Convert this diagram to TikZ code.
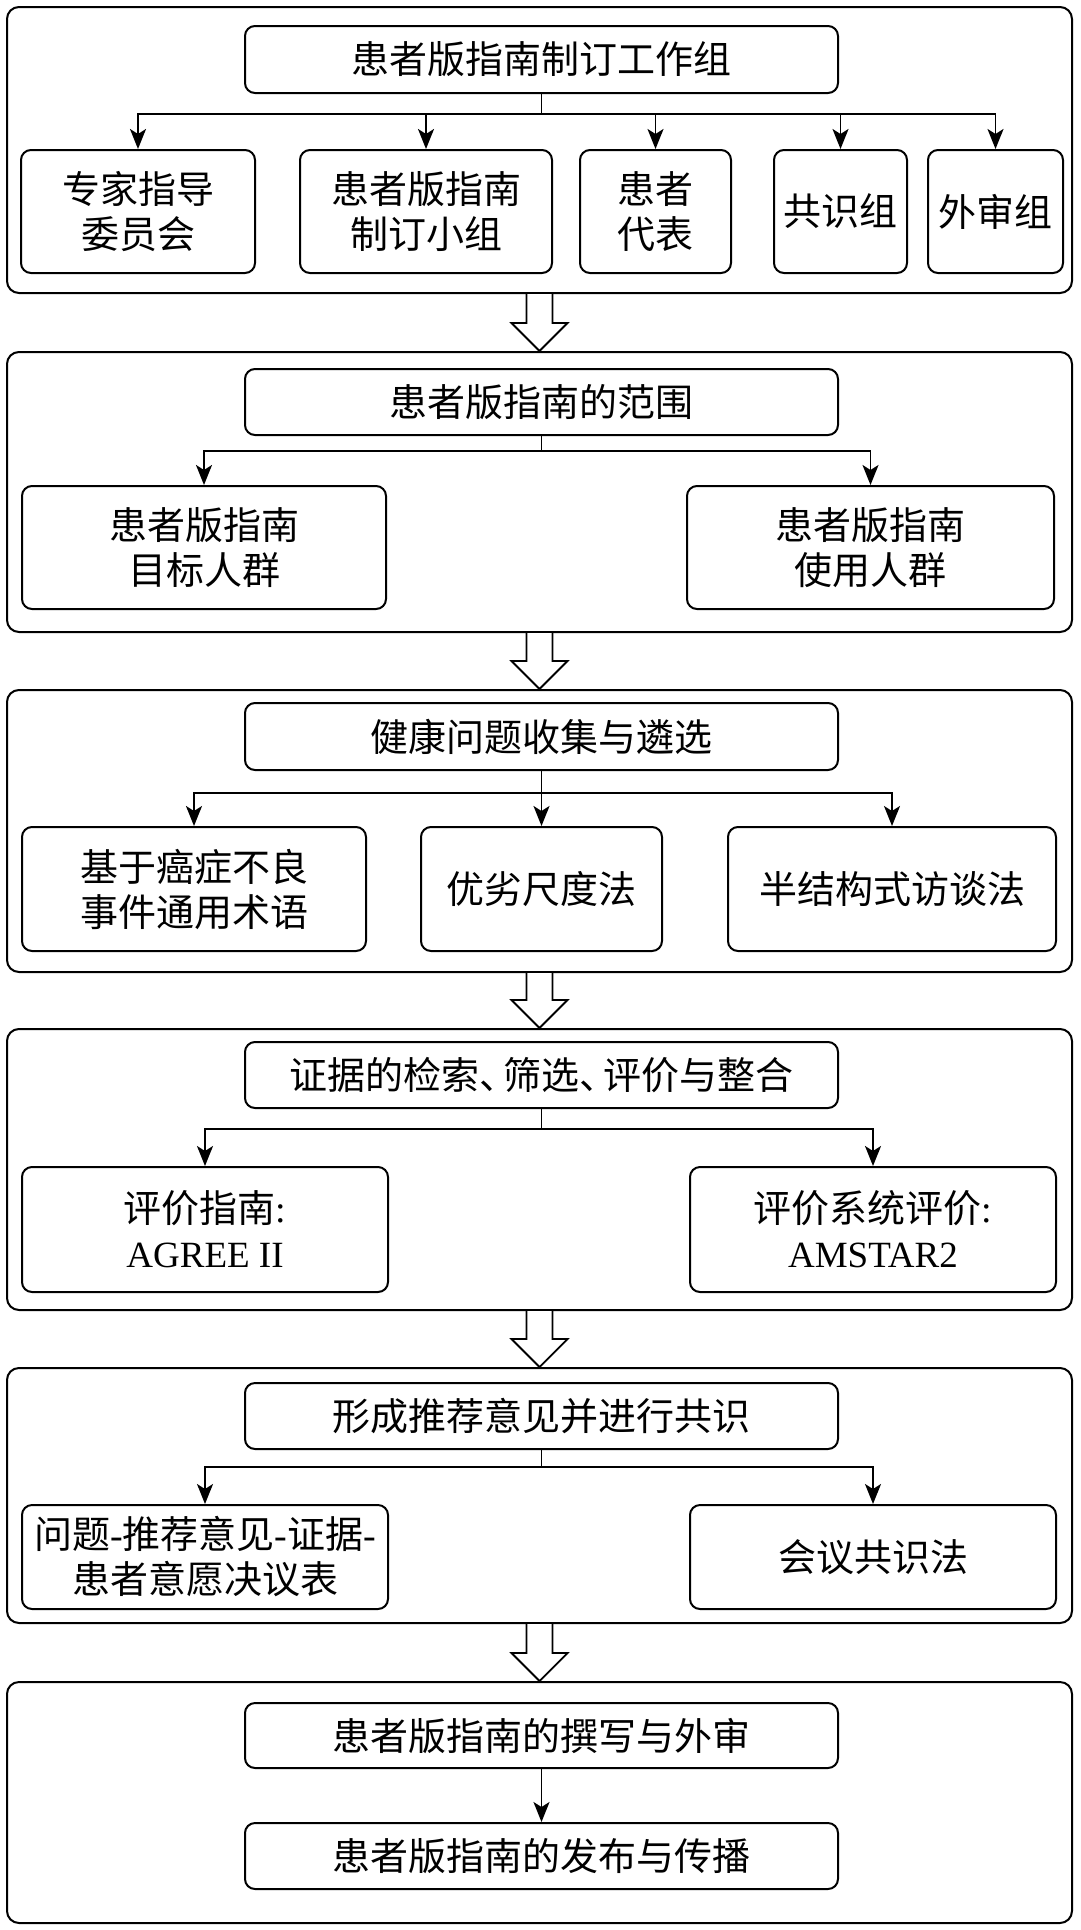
\documentclass[tikz,border=0pt]{standalone}
\usepackage{fontspec}
\setmainfont{Liberation Serif}
\newfontfamily\cjk{Noto Sans CJK SC}
\usetikzlibrary{arrows.meta,calc}
\newcommand\mkbox[7]{\node[#1, minimum width={(#4)-(#3)}, minimum height={(#6)-(#5)}] (#2) at ({((#3)+(#4))/2},{((#5)+(#6))/2}) {#7};}
\newcommand\harrow[2]{\draw[hollow] ($(#1.south)+(-13,0)$) -- ($(#2.north)+(-13,-28)$) -- ($(#2.north)+(-28,-28)$) -- (#2.north) -- ($(#2.north)+(28,-28)$) -- ($(#2.north)+(13,-28)$) -- ($(#1.south)+(13,0)$);}
\newcommand\lat[1]{{\rmfamily\fontsize{37}{45}\selectfont #1}}
\newcommand\dun{、\kern-14pt}
\begin{document}
\begin{tikzpicture}[x=1pt,y=-1pt,
  outer/.style={draw,line width=2pt,rounded corners=12pt,inner sep=0pt},
  bx/.style={draw,line width=2pt,rounded corners=10pt,align=center,inner sep=0pt,font=\cjk\fontsize{38}{45}\selectfont},
  conn/.style={line width=1.9pt},
  arr/.style={conn,-{Stealth[length=20pt,width=16pt,inset=5pt]}},
  hollow/.style={line width=1.8pt,fill=white}]
\useasboundingbox (0,0) rectangle (1080,1930);
\fill[white] (0,0) rectangle (1080,1930);

% ---- section 1
\mkbox{outer}{o1}{7}{1072}{7}{293}{}
\mkbox{bx}{t1}{245}{838}{26}{93}{患者版指南制订工作组}
\mkbox{bx}{c11}{21}{255}{150}{273}{专家指导\\委员会}
\mkbox{bx}{c12}{300}{552}{150}{273}{患者版指南\\制订小组}
\mkbox{bx}{c13}{580}{731}{150}{273}{患者\\代表}
\mkbox{bx}{c14}{774}{907}{150}{273}{共识组}
\mkbox{bx}{c15}{928}{1063}{150}{273}{外审组}
\coordinate (j1) at (t1.south |- 0,114);
\draw[conn] (t1.south) -- (j1);
\foreach \c in {c11,c12,c13,c14,c15} \draw[arr] (j1) -| (\c.north);

% ---- section 2
\mkbox{outer}{o2}{7}{1072}{352}{632}{}
\mkbox{bx}{t2}{245}{838}{369}{435}{患者版指南的范围}
\mkbox{bx}{c21}{22}{386}{486}{609}{患者版指南\\目标人群}
\mkbox{bx}{c22}{687}{1054}{486}{609}{患者版指南\\使用人群}
\coordinate (j2) at (t2.south |- 0,451);
\draw[conn] (t2.south) -- (j2);
\foreach \c in {c21,c22} \draw[arr] (j2) -| (\c.north);

% ---- section 3
\mkbox{outer}{o3}{7}{1072}{690}{972}{}
\mkbox{bx}{t3}{245}{838}{703}{770}{健康问题收集与遴选}
\mkbox{bx}{c31}{22}{366}{827}{951}{基于癌症不良\\事件通用术语}
\mkbox{bx}{c32}{421}{662}{827}{951}{优劣尺度法}
\mkbox{bx}{c33}{728}{1056}{827}{951}{半结构式访谈法}
\coordinate (j3) at (t3.south |- 0,793);
\draw[conn] (t3.south) -- (j3);
\foreach \c in {c31,c32,c33} \draw[arr] (j3) -| (\c.north);

% ---- section 4
\mkbox{outer}{o4}{7}{1072}{1029}{1310}{}
\mkbox{bx}{t4}{245}{838}{1042}{1108}{证据的检索\dun 筛选\dun 评价与整合}
\mkbox{bx}{c41}{22}{388}{1167}{1292}{评价指南{\rmfamily:}\\\lat{AGREE II}}
\mkbox{bx}{c42}{690}{1056}{1167}{1292}{评价系统评价{\rmfamily:}\\\lat{AMSTAR2}}
\coordinate (j4) at (t4.south |- 0,1129);
\draw[conn] (t4.south) -- (j4);
\foreach \c in {c41,c42} \draw[arr] (j4) -| (\c.north);

% ---- section 5
\mkbox{outer}{o5}{7}{1072}{1368}{1623}{}
\mkbox{bx}{t5}{245}{838}{1383}{1449}{形成推荐意见并进行共识}
\mkbox{bx}{c51}{22}{388}{1505}{1609}{问题{\rmfamily -}推荐意见{\rmfamily -}证据{\rmfamily -}\\患者意愿决议表}
\mkbox{bx}{c52}{690}{1056}{1505}{1609}{会议共识法}
\coordinate (j5) at (t5.south |- 0,1467);
\draw[conn] (t5.south) -- (j5);
\foreach \c in {c51,c52} \draw[arr] (j5) -| (\c.north);

% ---- section 6
\mkbox{outer}{o6}{7}{1072}{1682}{1923}{}
\mkbox{bx}{t6a}{245}{838}{1703}{1768}{患者版指南的撰写与外审}
\mkbox{bx}{t6b}{245}{838}{1823}{1889}{患者版指南的发布与传播}
\draw[arr] (t6a) -- (t6b);

% ---- hollow arrows between sections
\harrow{o1}{o2}
\harrow{o2}{o3}
\harrow{o3}{o4}
\harrow{o4}{o5}
\harrow{o5}{o6}
\end{tikzpicture}
\end{document}
